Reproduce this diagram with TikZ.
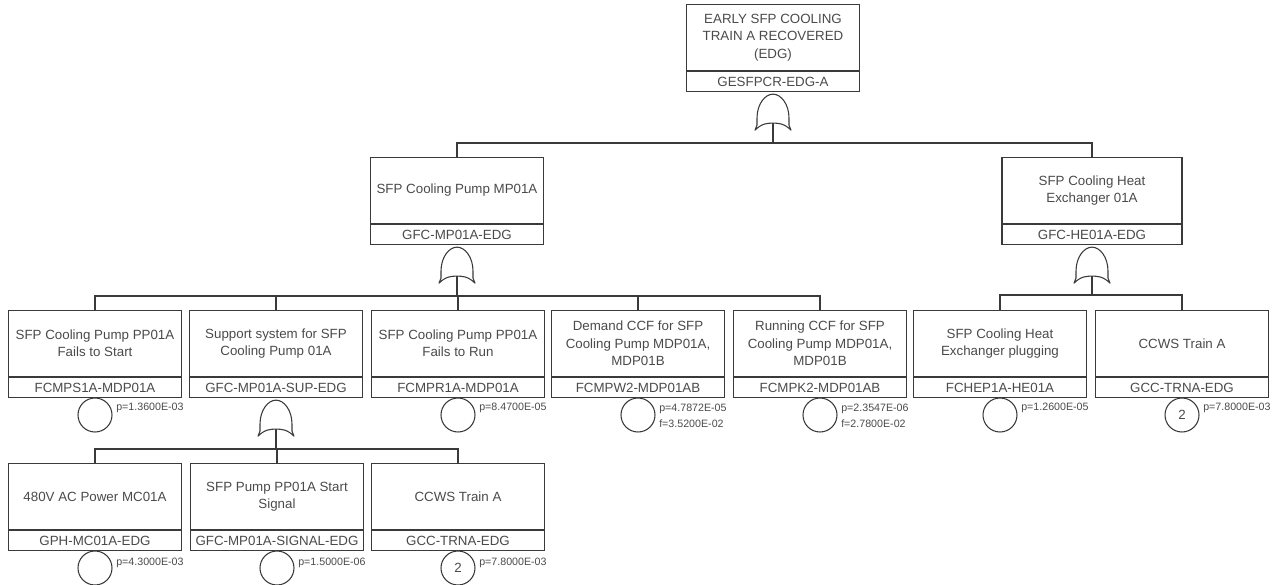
\documentclass[tikz,border=0pt]{standalone}
\usepackage{fontspec}
\setmainfont{Liberation Sans}
\usetikzlibrary{calc}
\definecolor{ln}{HTML}{3A3A3A}
\definecolor{tx}{HTML}{4A4A4A}
\tikzset{
 desc/.style={draw=ln, line width=0.8pt, rectangle, anchor=north, minimum width=130pt, minimum height=49.5pt, inner sep=0pt, align=center, text=tx, font=\fontsize{10}{13}\selectfont},
 idb/.style={draw=ln, line width=0.8pt, rectangle, anchor=north, minimum width=130pt, minimum height=15pt, inner sep=0pt, text=tx, font=\fontsize{10}{12}\selectfont},
 ev/.style={draw=ln, line width=0.8pt, circle, minimum size=25.5pt, inner sep=0pt, text=tx, font=\fontsize{10}{12}\selectfont},
 prob/.style={anchor=west, inner sep=0pt, align=left, text=tx, font=\fontsize{8}{12}\selectfont},
 conn/.style={draw=ln, line width=0.8pt},
 orgate/.pic={
  \draw[draw=ln, line width=0.8pt, fill=white, line join=round] (0,0) .. controls (-8,0) and (-16,10) .. (-16,24) -- (-16,31) -- (-18,36) .. controls (-11,29) and (-5,29) .. (0,29) .. controls (5,29) and (11,29) .. (18,36) -- (16,31) -- (16,24) .. controls (16,10) and (8,0) .. (0,0) -- cycle;
  \coordinate (-in) at (0,29);
 }
}
\begin{document}
\begin{tikzpicture}[x=0.75pt,y=-0.75pt]
\useasboundingbox (0,0) rectangle (1278,585);
% bar levels
\coordinate (barA) at (0,143);
\coordinate (barB) at (0,296);
\coordinate (barC) at (0,295);
\coordinate (barD) at (0,449);

% top event
\node[desc] (topd) at (773,4) {EARLY SFP COOLING\\TRAIN A RECOVERED\\(EDG)};
\node[idb] (topi) at (topd.south) {GESFPCR-EDG-A};
\pic (gT) at ($(topi.south)+(0,2)$) {orgate};

% level 2
\node[desc] (mpd) at (457,157) {SFP Cooling Pump MP01A};
\node[idb] (mpi) at (mpd.south) {GFC-MP01A-EDG};
\pic (gM) at ($(mpi.south)+(0,2)$) {orgate};

\node[desc, minimum width=135pt] (hed) at (1092,157) {SFP Cooling Heat\\Exchanger 01A};
\node[idb, minimum width=135pt] (hei) at (hed.south) {GFC-HE01A-EDG};
\pic (gH) at ($(hei.south)+(0,2)$) {orgate};

% level 3
\node[desc] (s1d) at (95,310) {SFP Cooling Pump PP01A\\Fails to Start};
\node[idb] (s1i) at (s1d.south) {FCMPS1A-MDP01A};
\node[ev] (s1e) at (95,415) {};
\node[prob] (s1p) at (116,408) {p=1.3600E-03};

\node[desc] (s2d) at (276,310) {Support system for SFP\\Cooling Pump 01A};
\node[idb] (s2i) at (s2d.south) {GFC-MP01A-SUP-EDG};
\pic (gS) at ($(s2i.south)+(0,2)$) {orgate};

\node[desc] (s3d) at (458,310) {SFP Cooling Pump PP01A\\Fails to Run};
\node[idb] (s3i) at (s3d.south) {FCMPR1A-MDP01A};
\node[ev] (s3e) at (458,415) {};
\node[prob] (s3p) at (479,408) {p=8.4700E-05};

\node[desc] (s4d) at (638,310) {Demand CCF for SFP\\Cooling Pump MDP01A,\\MDP01B};
\node[idb] (s4i) at (s4d.south) {FCMPW2-MDP01AB};
\node[ev] (s4e) at (638,415) {};
\node[prob] (s4p) at (659,416) {p=4.7872E-05\\f=3.5200E-02};

\node[desc] (s5d) at (820,310) {Running CCF for SFP\\Cooling Pump MDP01A,\\MDP01B};
\node[idb] (s5i) at (s5d.south) {FCMPK2-MDP01AB};
\node[ev] (s5e) at (820,415) {};
\node[prob] (s5p) at (841,416) {p=2.3547E-06\\f=2.7800E-02};

\node[desc] (s6d) at (1000,310) {SFP Cooling Heat\\Exchanger plugging};
\node[idb] (s6i) at (s6d.south) {FCHEP1A-HE01A};
\node[ev] (s6e) at (1000,415) {};
\node[prob] (s6p) at (1021,408) {p=1.2600E-05};

\node[desc] (s7d) at (1182,310) {CCWS Train A};
\node[idb] (s7i) at (s7d.south) {GCC-TRNA-EDG};
\node[ev] (s7e) at (1182,415) {2};
\node[prob] (s7p) at (1203,408) {p=7.8000E-03};

% level 4
\node[desc] (t1d) at (95,463) {480V AC Power MC01A};
\node[idb] (t1i) at (t1d.south) {GPH-MC01A-EDG};
\node[ev] (t1e) at (95,568) {};
\node[prob] (t1p) at (116,563) {p=4.3000E-03};

\node[desc] (t2d) at (277,463) {SFP Pump PP01A Start\\Signal};
\node[idb] (t2i) at (t2d.south) {GFC-MP01A-SIGNAL-EDG};
\node[ev] (t2e) at (277,568) {};
\node[prob] (t2p) at (298,563) {p=1.5000E-06};

\node[desc] (t3d) at (458,463) {CCWS Train A};
\node[idb] (t3i) at (t3d.south) {GCC-TRNA-EDG};
\node[ev] (t3e) at (458,568) {2};
\node[prob] (t3p) at (479,563) {p=7.8000E-03};

% connectors
\draw[conn] (gT-in) -- (gT-in |- barA) -| (mpd.north);
\draw[conn] (gT-in |- barA) -| (hed.north);

\draw[conn] (gM-in) -- (gM-in |- barB) -| (s1d.north);
\draw[conn] (gM-in |- barB) -| (s2d.north);
\draw[conn] (gM-in |- barB) -| (s3d.north);
\draw[conn] (gM-in |- barB) -| (s4d.north);
\draw[conn] (gM-in |- barB) -| (s5d.north);

\draw[conn] (gH-in) -- (gH-in |- barC) -| (s6d.north);
\draw[conn] (gH-in |- barC) -| (s7d.north);

\draw[conn] (gS-in) -- (gS-in |- barD) -| (t1d.north);
\draw[conn] (gS-in |- barD) -| (t2d.north);
\draw[conn] (gS-in |- barD) -| (t3d.north);
\end{tikzpicture}
\end{document}
